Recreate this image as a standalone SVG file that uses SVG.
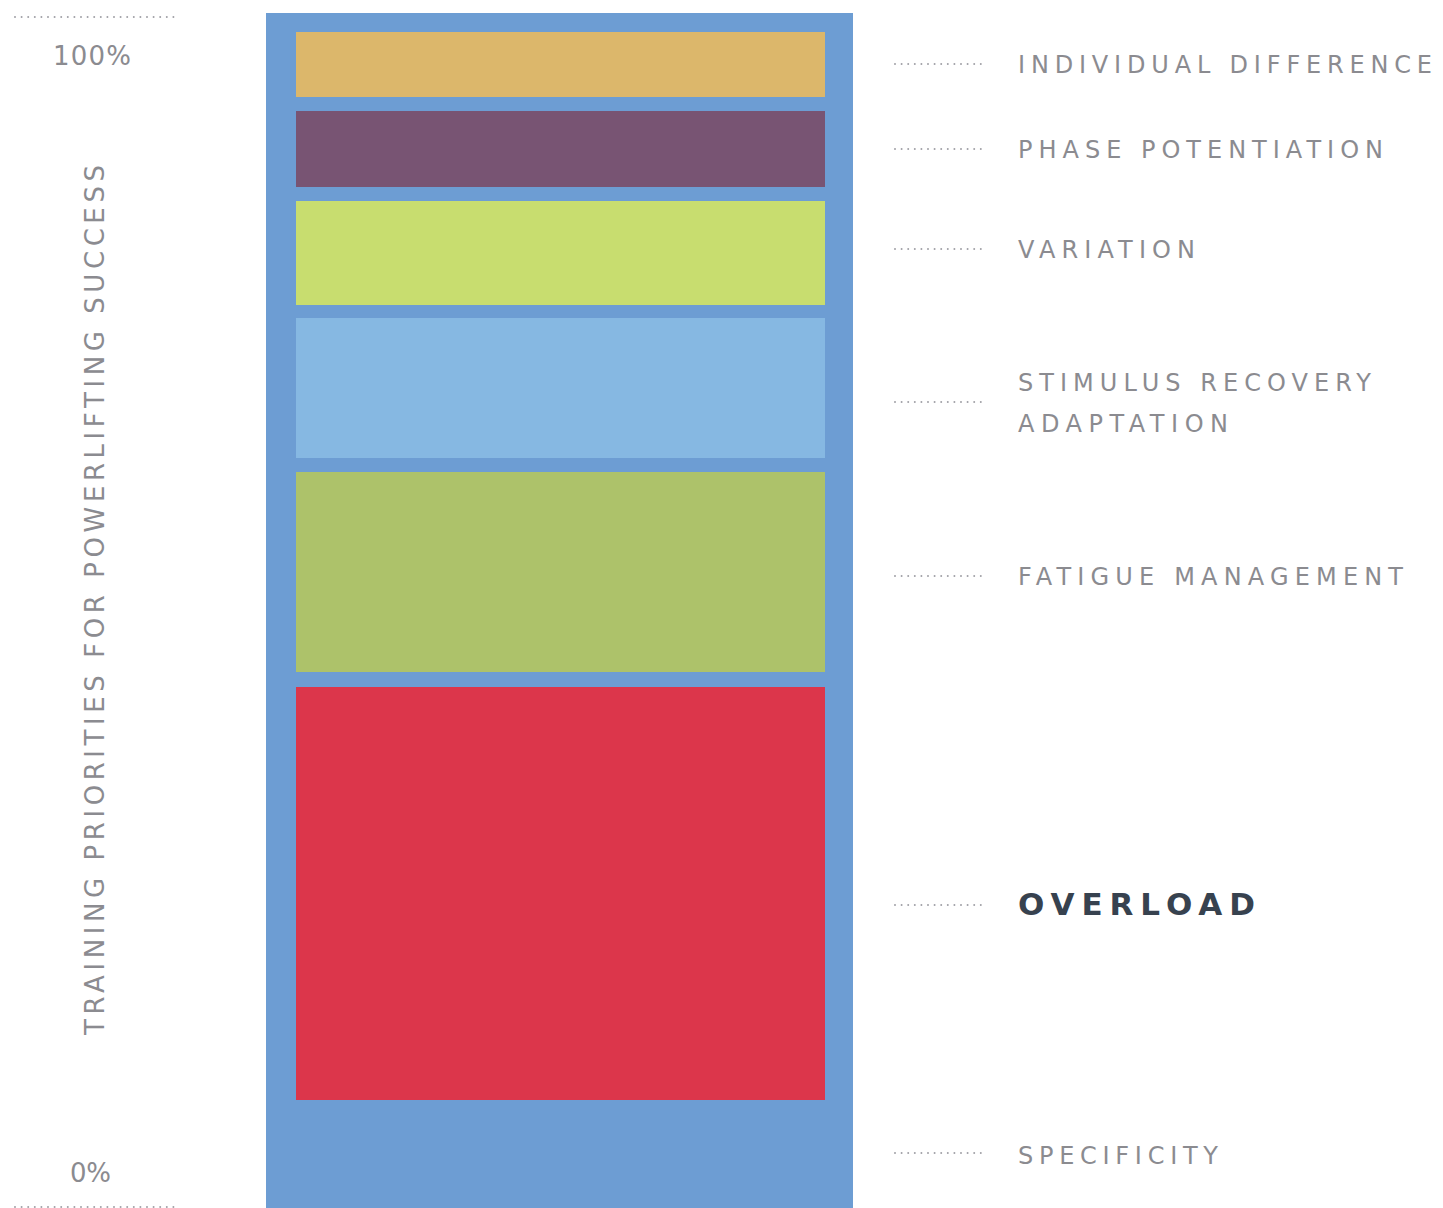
<svg xmlns="http://www.w3.org/2000/svg" width="1443" height="1208" viewBox="0 0 1443 1208">
<style>
.lbl{font-family:"DejaVu Sans","Liberation Sans",Arial,sans-serif;font-size:24px;fill:#8b8b90;letter-spacing:2px}
.ax{font-family:"DejaVu Sans","Liberation Sans",Arial,sans-serif;font-size:26px;fill:#8b8b90;letter-spacing:2px}
.bold{font-family:"DejaVu Sans","Liberation Sans",Arial,sans-serif;font-size:31px;font-weight:bold;fill:#37424f;letter-spacing:3px}
.dot{stroke:#a0a0a6;stroke-width:2;stroke-linecap:round;stroke-dasharray:0 6.6;fill:none}
</style>
<rect width="1443" height="1208" fill="#ffffff"/>
<g id="axis">
<line class="dot" x1="15" y1="17" x2="178" y2="17"/>
<line class="dot" x1="15" y1="1207" x2="178" y2="1207"/>
<text class="ax" x="53" y="65" textLength="80" lengthAdjust="spacing">100%</text>
<text class="ax" x="70" y="1182" textLength="43" lengthAdjust="spacing">0%</text>
<text class="ax" transform="translate(104,1035) rotate(-90)" x="0" y="0" textLength="872" lengthAdjust="spacing">TRAINING PRIORITIES FOR POWERLIFTING SUCCESS</text>
</g>
<g id="specificity">
<rect x="266" y="13" width="587" height="1200" fill="#6d9dd3"/>
</g>
<g id="individual-difference"><rect x="296" y="32" width="529" height="65" fill="#dcb76b"/></g>
<g id="phase-potentiation"><rect x="296" y="111" width="529" height="76" fill="#785473"/></g>
<g id="variation"><rect x="296" y="201" width="529" height="104" fill="#c8dd6f"/></g>
<g id="stimulus-recovery-adaptation"><rect x="296" y="318" width="529" height="140" fill="#86b8e2"/></g>
<g id="fatigue-management"><rect x="296" y="472" width="529" height="200" fill="#adc26a"/></g>
<g id="overload"><rect x="296" y="687" width="529" height="413" fill="#dc364b"/></g>
<g id="connectors">
<line class="dot" x1="895" y1="64" x2="985" y2="64"/>
<line class="dot" x1="895" y1="149" x2="985" y2="149"/>
<line class="dot" x1="895" y1="249" x2="985" y2="249"/>
<line class="dot" x1="895" y1="402" x2="985" y2="402"/>
<line class="dot" x1="895" y1="576" x2="985" y2="576"/>
<line class="dot" x1="895" y1="905" x2="985" y2="905"/>
<line class="dot" x1="895" y1="1153" x2="985" y2="1153"/>
</g>
<g id="labels">
<text class="lbl" x="1018" y="73" textLength="416" lengthAdjust="spacing">INDIVIDUAL DIFFERENCE</text>
<text class="lbl" x="1018" y="158" textLength="367" lengthAdjust="spacing">PHASE POTENTIATION</text>
<text class="lbl" x="1018" y="258" textLength="179" lengthAdjust="spacing">VARIATION</text>
<text class="lbl" x="1018" y="391" textLength="355" lengthAdjust="spacing">STIMULUS RECOVERY</text>
<text class="lbl" x="1018" y="432" textLength="212" lengthAdjust="spacing">ADAPTATION</text>
<text class="lbl" x="1018" y="585" textLength="387" lengthAdjust="spacing">FATIGUE MANAGEMENT</text>
<text class="bold" x="1018" y="915" textLength="240" lengthAdjust="spacing">OVERLOAD</text>
<text class="lbl" x="1018" y="1164" textLength="202" lengthAdjust="spacing">SPECIFICITY</text>
</g>
</svg>
